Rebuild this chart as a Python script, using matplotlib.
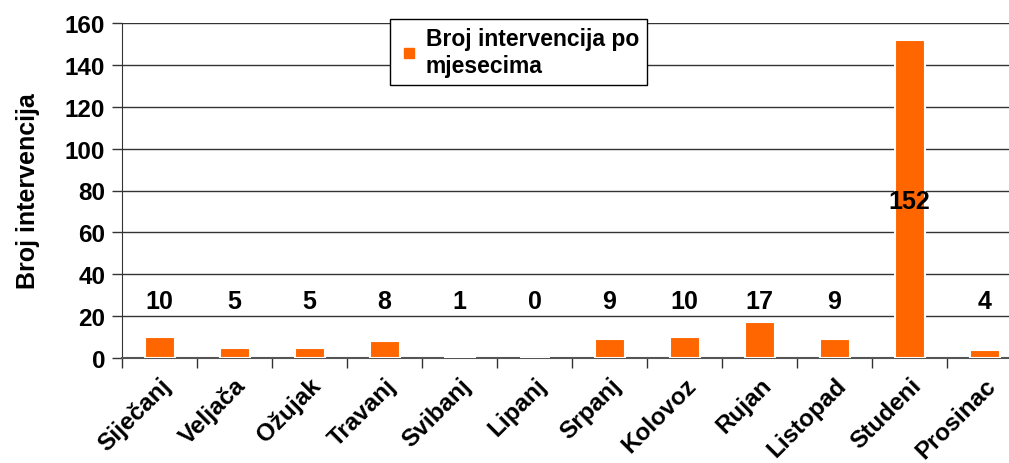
import numpy as np
import matplotlib.pyplot as plt
from matplotlib.lines import Line2D

plt.rcParams['font.family'] = ['Liberation Sans', 'DejaVu Sans']
plt.rcParams['font.weight'] = 'bold'

# mjeseci i broj intervencija
months = ['Siječanj', 'Veljača', 'Ožujak', 'Travanj', 'Svibanj', 'Lipanj',
          'Srpanj', 'Kolovoz', 'Rujan', 'Listopad', 'Studeni', 'Prosinac']
values = [10, 5, 5, 8, 1, 0, 9, 10, 17, 9, 152, 4]
yticks = [0, 20, 40, 60, 80, 100, 120, 140, 160]

orange = '#FF6600'

fig = plt.figure(figsize=(10.09, 4.64), dpi=100)
ax = fig.add_axes([122/1009, 1-359/464, 1-122/1009, 335/464])

x = np.arange(len(months))
ax.bar(x, values, width=0.4, color=orange, edgecolor='white', linewidth=1.5, zorder=3)

# oznake vrijednosti
for i, v in enumerate(values):
    ly = 75 if v > 100 else 27
    ax.text(i, ly, str(v), ha='center', va='center', fontsize=18, fontweight='bold', zorder=4)

ax.set_ylim(0, 160)
ax.set_xlim(-0.5, -0.5 + 887/75)
ax.set_yticks(yticks)
ax.yaxis.grid(True, color='#333333', linewidth=1)
ax.set_axisbelow(True)
ax.set_xticks(x - 0.5, minor=False)
ax.set_xticklabels([])
ax.set_xticks(x, minor=True)
ax.set_xticklabels(months, minor=True, rotation=45, ha='right', va='top',
                   rotation_mode='anchor', fontsize=17.5, fontweight='bold')
ax.tick_params(axis='x', which='minor', length=0, pad=11)
ax.tick_params(axis='x', which='major', length=7, width=1, direction='out', color='#333333')
ax.tick_params(axis='y', length=7, width=1, labelsize=17.5, color='#333333', pad=5)
for lbl in ax.get_yticklabels():
    lbl.set_fontweight('bold')

for s in ['top', 'right']:
    ax.spines[s].set_visible(False)
ax.spines['left'].set_color('#333333')
ax.spines['bottom'].set_color('#555555')
ax.spines['bottom'].set_linewidth(1.5)

ax.set_ylabel('Broj intervencija', fontsize=18, fontweight='bold')
ax.yaxis.set_label_coords(-82/887, 0.5)

handle = Line2D([], [], marker='s', linestyle='none', color=orange, markersize=7)
leg = fig.legend([handle], ['Broj intervencija po\nmjesecima'], loc='upper left',
                 bbox_to_anchor=(390/1009, 1-20/464), frameon=True, fancybox=False,
                 edgecolor='black', framealpha=1, borderpad=0.35, borderaxespad=0,
                 handletextpad=0.2, handlelength=1.0,
                 prop={'weight': 'bold', 'size': 16.5})
leg.get_frame().set_linewidth(1)

fig.savefig('out.png', dpi=100)
